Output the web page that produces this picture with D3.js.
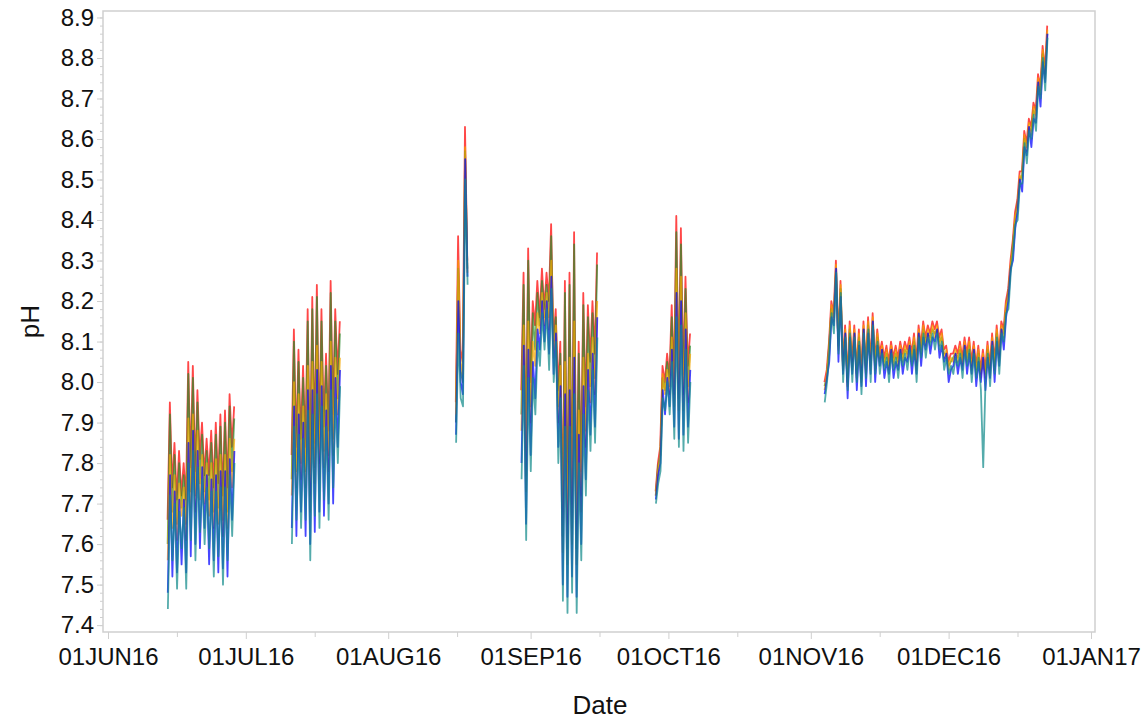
<!DOCTYPE html>
<html><head><meta charset="utf-8">
<script src="https://cdn.jsdelivr.net/npm/d3@7"></script>
<style>body{margin:0;background:#fff}svg{display:block}</style>
</head><body>
<svg id="chart" width="1147" height="722"></svg>
<script>
// ---- data ----
const segmentStarts = ["2016-06-14T00:00Z","2016-07-11T00:00Z","2016-08-15T18:00Z","2016-08-30T00:00Z","2016-09-28T06:00Z","2016-11-04T00:00Z"];
const stepHours = 12;
const seriesNames = ["red","green","orange","blue","teal"];
const seriesColors = ["#ff0000","#2e8b2e","#f5a800","#0000ff","#128a8a"];
const seriesOffsetHours = [-0.8,-0.4,0,0.4,0.8];

const redPH = [
 [7.66,7.95,7.74,7.85,7.71,7.83,7.72,7.80,7.71,8.05,7.79,8.04,7.78,7.98,7.81,7.90,7.77,7.86,7.77,7.88,7.74,7.90,7.75,7.92,7.72,7.93,7.74,7.97,7.84,7.94],
 [7.82,8.13,7.84,8.08,7.86,8.04,7.84,8.18,7.78,8.21,7.85,8.24,7.86,8.18,7.89,8.07,7.88,8.25,7.92,8.18,8.02,8.15],
 [7.95,8.36,8.08,8.05,8.63,8.30],
 [7.98,8.27,7.83,8.33,8.00,8.20,8.14,8.25,8.16,8.28,8.18,8.27,8.20,8.39,8.10,8.18,7.98,8.10,7.68,8.25,7.65,8.27,7.70,8.37,7.65,8.10,7.78,8.22,7.94,8.19,8.05,8.20,8.07,8.32],
 [7.73,7.80,7.84,8.04,8.00,8.07,8.01,8.19,8.00,8.41,8.00,8.38,8.02,8.26,8.04,8.12],
 [8.00,8.03,8.10,8.20,8.17,8.30,8.10,8.25,8.05,8.14,8.01,8.15,8.05,8.14,8.03,8.13,8.02,8.15,8.04,8.16,8.05,8.17,8.05,8.13,8.07,8.10,8.06,8.09,8.05,8.10,8.06,8.09,8.06,8.10,8.07,8.10,8.08,8.11,8.07,8.12,8.05,8.14,8.09,8.15,8.11,8.14,8.12,8.15,8.13,8.15,8.11,8.13,8.08,8.09,8.05,8.07,8.07,8.09,8.07,8.10,8.06,8.11,8.07,8.11,8.05,8.10,8.04,8.09,8.03,8.08,8.03,8.10,8.04,8.12,8.05,8.14,8.07,8.15,8.13,8.20,8.23,8.30,8.35,8.42,8.45,8.52,8.52,8.62,8.59,8.65,8.63,8.69,8.67,8.76,8.73,8.83,8.77,8.88]
];
const greenPH = [
 [7.60,7.92,7.68,7.82,7.65,7.80,7.69,7.77,7.65,8.02,7.73,8.01,7.72,7.95,7.75,7.87,7.73,7.83,7.71,7.85,7.68,7.87,7.69,7.89,7.66,7.90,7.68,7.94,7.78,7.91],
 [7.76,8.10,7.78,8.05,7.80,8.01,7.78,8.15,7.72,8.18,7.79,8.21,7.80,8.15,7.83,8.04,7.82,8.22,7.86,8.15,7.96,8.12],
 [7.90,8.28,8.03,8.00,8.57,8.28],
 [7.92,8.24,7.77,8.30,7.94,8.17,8.08,8.22,8.14,8.25,8.16,8.24,8.16,8.36,8.08,8.16,7.94,8.07,7.62,8.22,7.59,8.24,7.64,8.34,7.59,8.07,7.72,8.19,7.88,8.16,7.99,8.17,8.01,8.29],
 [7.72,7.79,7.82,8.01,7.98,8.05,7.99,8.16,7.97,8.37,7.96,8.34,7.97,8.23,7.99,8.09],
 [7.99,8.01,8.09,8.18,8.16,8.28,8.09,8.23,8.04,8.12,8.00,8.13,8.04,8.12,8.02,8.11,8.01,8.13,8.03,8.14,8.04,8.15,8.04,8.11,8.06,8.08,8.05,8.07,8.04,8.08,8.05,8.07,8.05,8.08,8.06,8.08,8.07,8.09,8.06,8.10,8.04,8.12,8.08,8.13,8.10,8.12,8.11,8.13,8.12,8.13,8.10,8.11,8.07,8.07,8.04,8.05,8.06,8.07,8.06,8.08,8.05,8.09,8.06,8.09,8.04,8.08,8.03,8.07,8.02,8.06,8.02,8.08,8.03,8.10,8.04,8.12,8.06,8.13,8.12,8.18,8.22,8.28,8.34,8.40,8.44,8.50,8.51,8.60,8.58,8.63,8.62,8.67,8.66,8.74,8.72,8.81,8.76,8.86]
];
const orangePH = [
 [7.56,7.82,7.64,7.77,7.61,7.75,7.67,7.74,7.61,7.91,7.69,7.92,7.68,7.88,7.71,7.82,7.70,7.80,7.67,7.80,7.64,7.81,7.65,7.82,7.62,7.82,7.64,7.86,7.74,7.86],
 [7.72,8.00,7.74,7.97,7.76,7.94,7.74,8.04,7.68,8.05,7.75,8.09,7.76,8.05,7.79,7.97,7.78,8.10,7.82,8.06,7.92,8.06],
 [7.92,8.30,8.05,8.02,8.58,8.27],
 [7.88,8.14,7.73,8.15,7.90,8.10,8.04,8.17,8.12,8.22,8.14,8.22,8.13,8.30,8.06,8.14,7.90,8.04,7.58,8.05,7.55,8.06,7.60,8.15,7.55,7.93,7.68,8.06,7.84,8.07,7.95,8.11,7.97,8.20],
 [7.72,7.78,7.82,8.02,7.97,8.03,7.97,8.11,7.94,8.28,7.93,8.26,7.93,8.17,7.95,8.07],
 [7.98,8.02,8.08,8.19,8.15,8.29,8.08,8.24,8.03,8.13,7.99,8.14,8.03,8.13,8.01,8.12,8.00,8.14,8.02,8.15,8.03,8.16,8.03,8.12,8.05,8.09,8.04,8.08,8.03,8.09,8.04,8.08,8.04,8.09,8.05,8.09,8.06,8.10,8.05,8.11,8.03,8.13,8.07,8.14,8.09,8.13,8.10,8.14,8.11,8.14,8.09,8.12,8.06,8.08,8.03,8.06,8.05,8.08,8.05,8.09,8.04,8.10,8.05,8.10,8.03,8.09,8.02,8.08,8.01,8.07,8.01,8.09,8.02,8.11,8.03,8.13,8.05,8.14,8.11,8.19,8.21,8.29,8.33,8.41,8.43,8.51,8.50,8.61,8.57,8.64,8.61,8.68,8.65,8.75,8.71,8.82,8.75,8.87]
];
const bluePH = [
 [7.48,7.77,7.52,7.73,7.53,7.71,7.55,7.71,7.53,7.85,7.57,7.88,7.60,7.83,7.59,7.79,7.64,7.77,7.55,7.76,7.56,7.77,7.53,7.78,7.54,7.78,7.52,7.81,7.66,7.83],
 [7.64,7.94,7.62,7.92,7.68,7.90,7.62,7.98,7.60,7.98,7.63,8.03,7.68,7.99,7.67,7.93,7.70,8.04,7.70,8.01,7.84,8.03],
 [7.87,8.20,8.00,7.97,8.55,8.26],
 [7.80,8.09,7.65,8.08,7.82,8.05,7.96,8.13,8.08,8.20,8.10,8.20,8.07,8.26,8.02,8.12,7.84,7.99,7.50,7.97,7.47,7.98,7.52,8.06,7.47,7.87,7.60,7.99,7.76,8.03,7.87,8.07,7.89,8.16],
 [7.71,7.77,7.80,7.98,7.92,8.01,7.94,8.08,7.89,8.22,7.86,8.20,7.87,8.13,7.89,8.03],
 [7.97,8.01,8.05,8.16,8.14,8.28,8.05,8.21,8.02,8.12,7.96,8.11,8.02,8.12,7.98,8.09,7.99,8.13,7.99,8.12,8.02,8.15,8.00,8.09,8.04,8.08,8.01,8.05,8.02,8.08,8.01,8.05,8.03,8.08,8.02,8.06,8.05,8.09,8.02,8.08,8.02,8.12,8.04,8.11,8.08,8.12,8.07,8.11,8.10,8.13,8.06,8.09,8.05,8.07,8.00,8.03,8.04,8.07,8.02,8.06,8.03,8.09,8.02,8.07,8.02,8.08,7.99,8.05,8.00,8.06,7.98,8.06,8.01,8.10,8.00,8.10,8.04,8.13,8.08,8.16,8.20,8.28,8.30,8.38,8.42,8.50,8.47,8.58,8.56,8.63,8.58,8.65,8.64,8.74,8.68,8.79,8.74,8.86]
];
const tealPH = [
 [7.44,7.72,7.56,7.70,7.49,7.68,7.59,7.69,7.49,7.80,7.61,7.83,7.56,7.79,7.63,7.76,7.60,7.74,7.59,7.73,7.52,7.73,7.57,7.74,7.50,7.74,7.56,7.77,7.62,7.80],
 [7.60,7.89,7.66,7.87,7.64,7.86,7.66,7.93,7.56,7.92,7.67,7.97,7.64,7.94,7.71,7.89,7.66,7.98,7.74,7.96,7.80,7.99],
 [7.85,8.12,7.96,7.94,8.50,8.24],
 [7.76,8.04,7.61,8.01,7.78,8.01,7.92,8.10,8.04,8.17,8.08,8.18,8.03,8.23,8.00,8.10,7.80,7.96,7.46,7.89,7.43,7.89,7.48,7.97,7.43,7.80,7.56,7.92,7.72,7.98,7.83,8.03,7.85,8.11],
 [7.70,7.75,7.78,7.96,7.93,8.00,7.92,8.05,7.86,8.16,7.84,8.14,7.83,8.08,7.85,8.00],
 [7.95,8.00,8.07,8.17,8.12,8.27,8.07,8.22,8.00,8.11,7.98,8.12,8.00,8.11,8.00,8.10,7.97,8.12,8.01,8.13,8.00,8.14,8.02,8.10,8.02,8.07,8.03,8.06,8.00,8.07,8.03,8.06,8.01,8.07,8.04,8.07,8.03,8.08,8.04,8.09,8.00,8.11,8.06,8.12,8.06,8.11,8.09,8.12,8.08,8.12,8.08,8.10,8.03,8.06,8.02,8.04,8.02,8.06,8.04,8.07,8.01,8.08,8.04,8.08,8.00,8.07,8.01,8.06,7.98,7.79,8.00,8.07,7.99,8.09,8.02,8.11,8.02,8.12,8.10,8.17,8.18,8.27,8.32,8.39,8.40,8.49,8.49,8.59,8.54,8.62,8.60,8.66,8.62,8.73,8.70,8.80,8.72,8.85]
];
const seriesValues = [redPH, greenPH, orangePH, bluePH, tealPH];

const yTickValues = [7.4,7.5,7.6,7.7,7.8,7.9,8.0,8.1,8.2,8.3,8.4,8.5,8.6,8.7,8.8,8.9];
const xTickDates = ["2016-06-01","2016-07-01","2016-08-01","2016-09-01","2016-10-01","2016-11-01","2016-12-01","2017-01-01"];
const xTickLabels = ["01JUN16","01JUL16","01AUG16","01SEP16","01OCT16","01NOV16","01DEC16","01JAN17"];
const xMinorDates = ["2016-06-16","2016-07-16","2016-08-16","2016-09-16","2016-10-16","2016-11-16","2016-12-16"];

// ---- layout ----
const L = 103, R = 1095, T = 11, B = 632;
const svg = d3.select("#chart");
const x = d3.scaleUtc().domain([new Date("2016-05-30T21:52Z"), new Date("2017-01-01T20:54Z")]).range([L, R]);
const y = d3.scaleLinear().domain([7.383, 8.916]).range([B, T]);
const font = "'Liberation Sans', Arial, Helvetica, sans-serif";
const gridCol = "#cfcfcf";

// minor ticks
const yMinor = d3.range(7.38, 8.92, 0.02).filter(v => v >= 7.383 && v <= 8.916);
svg.append("g").attr("transform", `translate(${L},0)`)
  .call(d3.axisLeft(y).tickValues(yMinor).tickSize(3).tickFormat(""))
  .call(g => { g.select(".domain").remove(); g.selectAll("line").attr("stroke", gridCol); });
svg.append("g").attr("transform", `translate(0,${B})`)
  .call(d3.axisBottom(x).tickValues(xMinorDates.map(d => new Date(d + "T00:00Z"))).tickSize(5).tickFormat(""))
  .call(g => { g.select(".domain").remove(); g.selectAll("line").attr("stroke", gridCol); });

// major axes
const xAxis = d3.axisBottom(x).tickValues(xTickDates.map(d => new Date(d + "T00:00Z")))
  .tickFormat((d, i) => xTickLabels[i]).tickSize(7).tickPadding(9).tickSizeOuter(0);
svg.append("g").attr("transform", `translate(0,${B})`).call(xAxis)
  .call(g => { g.select(".domain").remove(); g.selectAll("line").attr("stroke", gridCol);
    g.selectAll("text").attr("font-size", 24).attr("font-family", font).attr("fill", "#111"); });
const yAxis = d3.axisLeft(y).tickValues(yTickValues).tickFormat(d3.format(".1f")).tickSize(6).tickPadding(3).tickSizeOuter(0);
svg.append("g").attr("transform", `translate(${L},0)`).call(yAxis)
  .call(g => { g.select(".domain").remove(); g.selectAll("line").attr("stroke", gridCol);
    g.selectAll("text").attr("font-size", 24).attr("font-family", font).attr("fill", "#111"); });

// frame
svg.append("rect").attr("x", L).attr("y", T).attr("width", R - L).attr("height", B - T)
  .attr("fill", "none").attr("stroke", gridCol).attr("stroke-width", 1.5);

// series
const line = d3.line().x(d => x(d.t)).y(d => y(d.v));
const plot = svg.append("g");
seriesValues.forEach((segs, si) => {
  segs.forEach((vals, k) => {
    const t0 = new Date(segmentStarts[k]).getTime() + seriesOffsetHours[si] * 3600e3;
    const pts = vals.map((v, i) => ({ t: new Date(t0 + i * stepHours * 3600e3), v }));
    plot.append("path").datum(pts).attr("d", line)
      .attr("fill", "none").attr("stroke", seriesColors[si]).attr("stroke-width", 1.8)
      .attr("stroke-opacity", 0.72).attr("stroke-linejoin", "round");
  });
});

// axis titles
svg.append("text").attr("x", (L + R) / 2 + 1).attr("y", 714).attr("text-anchor", "middle")
  .attr("font-size", 26).attr("font-family", font).attr("fill", "#111").text("Date");
svg.append("text").attr("transform", `translate(39,${(T + B) / 2})rotate(-90)`).attr("text-anchor", "middle")
  .attr("font-size", 26).attr("font-family", font).attr("fill", "#111").text("pH");
</script>
</body></html>
